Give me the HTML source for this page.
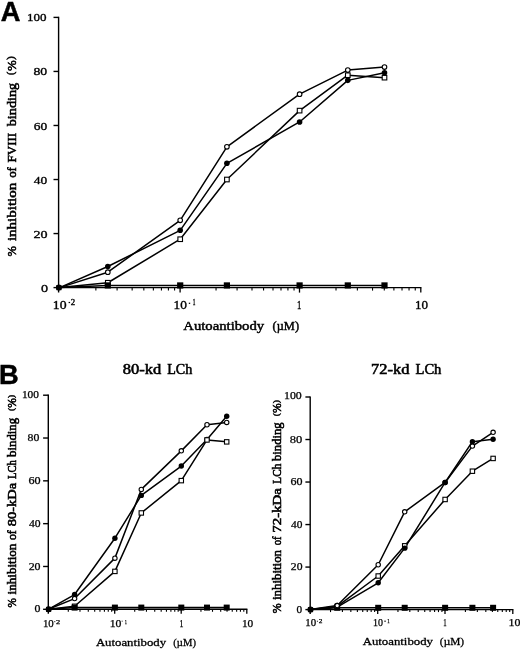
<!DOCTYPE html>
<html><head><meta charset="utf-8"><style>
html,body{margin:0;padding:0;background:#fff;}
svg{display:block;will-change:transform;}
text{fill:#000;}
</style></head><body>
<svg width="520" height="649" viewBox="0 0 520 649">
<line x1="58.60" y1="16.80" x2="58.60" y2="292.60" stroke="#000" stroke-width="1.4"/>
<line x1="53.50" y1="287.60" x2="58.60" y2="287.60" stroke="#000" stroke-width="1.4"/>
<line x1="53.50" y1="233.56" x2="58.60" y2="233.56" stroke="#000" stroke-width="1.4"/>
<line x1="53.50" y1="179.52" x2="58.60" y2="179.52" stroke="#000" stroke-width="1.4"/>
<line x1="53.50" y1="125.48" x2="58.60" y2="125.48" stroke="#000" stroke-width="1.4"/>
<line x1="53.50" y1="71.44" x2="58.60" y2="71.44" stroke="#000" stroke-width="1.4"/>
<line x1="53.50" y1="17.40" x2="58.60" y2="17.40" stroke="#000" stroke-width="1.4"/>
<line x1="58.60" y1="287.60" x2="421.40" y2="287.60" stroke="#000" stroke-width="1.4"/>
<line x1="95.87" y1="287.60" x2="95.87" y2="290.60" stroke="#000" stroke-width="1.1"/>
<line x1="117.09" y1="287.60" x2="117.09" y2="290.60" stroke="#000" stroke-width="1.1"/>
<line x1="132.15" y1="287.60" x2="132.15" y2="290.60" stroke="#000" stroke-width="1.1"/>
<line x1="143.83" y1="287.60" x2="143.83" y2="290.60" stroke="#000" stroke-width="1.1"/>
<line x1="153.37" y1="287.60" x2="153.37" y2="290.60" stroke="#000" stroke-width="1.1"/>
<line x1="161.43" y1="287.60" x2="161.43" y2="290.60" stroke="#000" stroke-width="1.1"/>
<line x1="168.42" y1="287.60" x2="168.42" y2="290.60" stroke="#000" stroke-width="1.1"/>
<line x1="174.59" y1="287.60" x2="174.59" y2="290.60" stroke="#000" stroke-width="1.1"/>
<line x1="216.04" y1="287.60" x2="216.04" y2="290.60" stroke="#000" stroke-width="1.1"/>
<line x1="237.07" y1="287.60" x2="237.07" y2="290.60" stroke="#000" stroke-width="1.1"/>
<line x1="251.99" y1="287.60" x2="251.99" y2="290.60" stroke="#000" stroke-width="1.1"/>
<line x1="263.56" y1="287.60" x2="263.56" y2="290.60" stroke="#000" stroke-width="1.1"/>
<line x1="273.01" y1="287.60" x2="273.01" y2="290.60" stroke="#000" stroke-width="1.1"/>
<line x1="281.00" y1="287.60" x2="281.00" y2="290.60" stroke="#000" stroke-width="1.1"/>
<line x1="287.93" y1="287.60" x2="287.93" y2="290.60" stroke="#000" stroke-width="1.1"/>
<line x1="294.04" y1="287.60" x2="294.04" y2="290.60" stroke="#000" stroke-width="1.1"/>
<line x1="336.01" y1="287.60" x2="336.01" y2="290.60" stroke="#000" stroke-width="1.1"/>
<line x1="357.37" y1="287.60" x2="357.37" y2="290.60" stroke="#000" stroke-width="1.1"/>
<line x1="372.53" y1="287.60" x2="372.53" y2="290.60" stroke="#000" stroke-width="1.1"/>
<line x1="384.29" y1="287.60" x2="384.29" y2="290.60" stroke="#000" stroke-width="1.1"/>
<line x1="393.89" y1="287.60" x2="393.89" y2="290.60" stroke="#000" stroke-width="1.1"/>
<line x1="402.01" y1="287.60" x2="402.01" y2="290.60" stroke="#000" stroke-width="1.1"/>
<line x1="409.04" y1="287.60" x2="409.04" y2="290.60" stroke="#000" stroke-width="1.1"/>
<line x1="415.25" y1="287.60" x2="415.25" y2="290.60" stroke="#000" stroke-width="1.1"/>
<line x1="180.10" y1="287.60" x2="180.10" y2="292.60" stroke="#000" stroke-width="1.3"/>
<line x1="299.50" y1="287.60" x2="299.50" y2="292.60" stroke="#000" stroke-width="1.3"/>
<line x1="420.80" y1="287.60" x2="420.80" y2="292.60" stroke="#000" stroke-width="1.3"/>
<polyline points="59.60,287.60 107.80,285.44 180.20,285.44 226.90,285.44 299.60,285.44 347.80,285.44 384.50,285.44" fill="none" stroke="#000" stroke-width="1.5" stroke-linejoin="round"/>
<polyline points="59.60,287.60 107.80,282.74 180.20,239.23 226.90,179.52 299.60,110.62 347.80,75.22 384.50,77.65" fill="none" stroke="#000" stroke-width="1.5" stroke-linejoin="round"/>
<polyline points="59.60,287.60 107.80,266.52 180.20,230.32 226.90,163.31 299.60,121.97 347.80,80.36 384.50,72.79" fill="none" stroke="#000" stroke-width="1.5" stroke-linejoin="round"/>
<polyline points="59.60,287.60 107.80,272.20 180.20,220.32 226.90,146.83 299.60,94.14 347.80,70.09 384.50,67.12" fill="none" stroke="#000" stroke-width="1.5" stroke-linejoin="round"/>
<rect x="105.50" y="280.44" width="4.60" height="4.60" fill="#fff" stroke="#000" stroke-width="1.1"/>
<rect x="177.90" y="236.93" width="4.60" height="4.60" fill="#fff" stroke="#000" stroke-width="1.1"/>
<rect x="224.60" y="177.22" width="4.60" height="4.60" fill="#fff" stroke="#000" stroke-width="1.1"/>
<rect x="297.30" y="108.32" width="4.60" height="4.60" fill="#fff" stroke="#000" stroke-width="1.1"/>
<rect x="345.50" y="72.92" width="4.60" height="4.60" fill="#fff" stroke="#000" stroke-width="1.1"/>
<rect x="382.20" y="75.35" width="4.60" height="4.60" fill="#fff" stroke="#000" stroke-width="1.1"/>
<rect x="104.70" y="282.34" width="6.20" height="6.20" fill="#000"/>
<rect x="177.10" y="282.34" width="6.20" height="6.20" fill="#000"/>
<rect x="223.80" y="282.34" width="6.20" height="6.20" fill="#000"/>
<rect x="296.50" y="282.34" width="6.20" height="6.20" fill="#000"/>
<rect x="344.70" y="282.34" width="6.20" height="6.20" fill="#000"/>
<rect x="381.40" y="282.34" width="6.20" height="6.20" fill="#000"/>
<circle cx="107.80" cy="266.52" r="2.80" fill="#000"/>
<circle cx="180.20" cy="230.32" r="2.80" fill="#000"/>
<circle cx="226.90" cy="163.31" r="2.80" fill="#000"/>
<circle cx="299.60" cy="121.97" r="2.80" fill="#000"/>
<circle cx="347.80" cy="80.36" r="2.80" fill="#000"/>
<circle cx="384.50" cy="72.79" r="2.80" fill="#000"/>
<circle cx="107.80" cy="272.20" r="2.30" fill="#fff" stroke="#000" stroke-width="1.1"/>
<circle cx="180.20" cy="220.32" r="2.30" fill="#fff" stroke="#000" stroke-width="1.1"/>
<circle cx="226.90" cy="146.83" r="2.30" fill="#fff" stroke="#000" stroke-width="1.1"/>
<circle cx="299.60" cy="94.14" r="2.30" fill="#fff" stroke="#000" stroke-width="1.1"/>
<circle cx="347.80" cy="70.09" r="2.30" fill="#fff" stroke="#000" stroke-width="1.1"/>
<circle cx="384.50" cy="67.12" r="2.30" fill="#fff" stroke="#000" stroke-width="1.1"/>
<circle cx="58.90" cy="287.60" r="3.0" fill="#000"/>
<rect x="56.30" y="285.20" width="5.2" height="5" fill="#000"/>
<line x1="48.30" y1="394.60" x2="48.30" y2="613.80" stroke="#000" stroke-width="1.4"/>
<line x1="43.10" y1="609.30" x2="48.30" y2="609.30" stroke="#000" stroke-width="1.4"/>
<line x1="43.10" y1="566.48" x2="48.30" y2="566.48" stroke="#000" stroke-width="1.4"/>
<line x1="43.10" y1="523.66" x2="48.30" y2="523.66" stroke="#000" stroke-width="1.4"/>
<line x1="43.10" y1="480.84" x2="48.30" y2="480.84" stroke="#000" stroke-width="1.4"/>
<line x1="43.10" y1="438.02" x2="48.30" y2="438.02" stroke="#000" stroke-width="1.4"/>
<line x1="43.10" y1="395.20" x2="48.30" y2="395.20" stroke="#000" stroke-width="1.4"/>
<line x1="48.30" y1="609.30" x2="247.40" y2="609.30" stroke="#000" stroke-width="1.4"/>
<line x1="68.29" y1="609.30" x2="68.29" y2="611.80" stroke="#000" stroke-width="1.1"/>
<line x1="79.98" y1="609.30" x2="79.98" y2="611.80" stroke="#000" stroke-width="1.1"/>
<line x1="88.28" y1="609.30" x2="88.28" y2="611.80" stroke="#000" stroke-width="1.1"/>
<line x1="94.71" y1="609.30" x2="94.71" y2="611.80" stroke="#000" stroke-width="1.1"/>
<line x1="99.97" y1="609.30" x2="99.97" y2="611.80" stroke="#000" stroke-width="1.1"/>
<line x1="104.41" y1="609.30" x2="104.41" y2="611.80" stroke="#000" stroke-width="1.1"/>
<line x1="108.27" y1="609.30" x2="108.27" y2="611.80" stroke="#000" stroke-width="1.1"/>
<line x1="111.66" y1="609.30" x2="111.66" y2="611.80" stroke="#000" stroke-width="1.1"/>
<line x1="134.72" y1="609.30" x2="134.72" y2="611.80" stroke="#000" stroke-width="1.1"/>
<line x1="146.43" y1="609.30" x2="146.43" y2="611.80" stroke="#000" stroke-width="1.1"/>
<line x1="154.74" y1="609.30" x2="154.74" y2="611.80" stroke="#000" stroke-width="1.1"/>
<line x1="161.18" y1="609.30" x2="161.18" y2="611.80" stroke="#000" stroke-width="1.1"/>
<line x1="166.45" y1="609.30" x2="166.45" y2="611.80" stroke="#000" stroke-width="1.1"/>
<line x1="170.90" y1="609.30" x2="170.90" y2="611.80" stroke="#000" stroke-width="1.1"/>
<line x1="174.76" y1="609.30" x2="174.76" y2="611.80" stroke="#000" stroke-width="1.1"/>
<line x1="178.16" y1="609.30" x2="178.16" y2="611.80" stroke="#000" stroke-width="1.1"/>
<line x1="200.95" y1="609.30" x2="200.95" y2="611.80" stroke="#000" stroke-width="1.1"/>
<line x1="212.50" y1="609.30" x2="212.50" y2="611.80" stroke="#000" stroke-width="1.1"/>
<line x1="220.70" y1="609.30" x2="220.70" y2="611.80" stroke="#000" stroke-width="1.1"/>
<line x1="227.05" y1="609.30" x2="227.05" y2="611.80" stroke="#000" stroke-width="1.1"/>
<line x1="232.25" y1="609.30" x2="232.25" y2="611.80" stroke="#000" stroke-width="1.1"/>
<line x1="236.64" y1="609.30" x2="236.64" y2="611.80" stroke="#000" stroke-width="1.1"/>
<line x1="240.44" y1="609.30" x2="240.44" y2="611.80" stroke="#000" stroke-width="1.1"/>
<line x1="243.80" y1="609.30" x2="243.80" y2="611.80" stroke="#000" stroke-width="1.1"/>
<line x1="114.70" y1="609.30" x2="114.70" y2="613.80" stroke="#000" stroke-width="1.3"/>
<line x1="181.20" y1="609.30" x2="181.20" y2="613.80" stroke="#000" stroke-width="1.3"/>
<line x1="246.80" y1="609.30" x2="246.80" y2="613.80" stroke="#000" stroke-width="1.3"/>
<polyline points="48.30,609.30 74.60,607.59 114.90,607.59 141.30,607.59 181.30,607.59 207.00,607.59 226.70,607.59" fill="none" stroke="#000" stroke-width="1.5" stroke-linejoin="round"/>
<polyline points="48.30,609.30 74.60,606.30 114.90,571.40 141.30,512.95 181.30,480.63 207.00,439.95 226.70,441.87" fill="none" stroke="#000" stroke-width="1.5" stroke-linejoin="round"/>
<polyline points="48.30,609.30 74.60,594.53 114.90,538.22 141.30,495.40 181.30,466.07 207.00,439.52 226.70,416.18" fill="none" stroke="#000" stroke-width="1.5" stroke-linejoin="round"/>
<polyline points="48.30,609.30 74.60,598.59 114.90,558.13 141.30,489.40 181.30,450.87 207.00,424.75 226.70,422.39" fill="none" stroke="#000" stroke-width="1.5" stroke-linejoin="round"/>
<circle cx="74.60" cy="594.53" r="2.70" fill="#000"/>
<circle cx="114.90" cy="538.22" r="2.70" fill="#000"/>
<circle cx="141.30" cy="495.40" r="2.70" fill="#000"/>
<circle cx="181.30" cy="466.07" r="2.70" fill="#000"/>
<circle cx="207.00" cy="439.52" r="2.70" fill="#000"/>
<circle cx="226.70" cy="416.18" r="2.70" fill="#000"/>
<rect x="72.40" y="604.10" width="4.40" height="4.40" fill="#fff" stroke="#000" stroke-width="1.1"/>
<rect x="112.70" y="569.20" width="4.40" height="4.40" fill="#fff" stroke="#000" stroke-width="1.1"/>
<rect x="139.10" y="510.75" width="4.40" height="4.40" fill="#fff" stroke="#000" stroke-width="1.1"/>
<rect x="179.10" y="478.43" width="4.40" height="4.40" fill="#fff" stroke="#000" stroke-width="1.1"/>
<rect x="204.80" y="437.75" width="4.40" height="4.40" fill="#fff" stroke="#000" stroke-width="1.1"/>
<rect x="224.50" y="439.67" width="4.40" height="4.40" fill="#fff" stroke="#000" stroke-width="1.1"/>
<rect x="71.60" y="604.59" width="6.00" height="6.00" fill="#000"/>
<rect x="111.90" y="604.59" width="6.00" height="6.00" fill="#000"/>
<rect x="138.30" y="604.59" width="6.00" height="6.00" fill="#000"/>
<rect x="178.30" y="604.59" width="6.00" height="6.00" fill="#000"/>
<rect x="204.00" y="604.59" width="6.00" height="6.00" fill="#000"/>
<rect x="223.70" y="604.59" width="6.00" height="6.00" fill="#000"/>
<circle cx="74.60" cy="598.59" r="2.20" fill="#fff" stroke="#000" stroke-width="1.1"/>
<circle cx="114.90" cy="558.13" r="2.20" fill="#fff" stroke="#000" stroke-width="1.1"/>
<circle cx="141.30" cy="489.40" r="2.20" fill="#fff" stroke="#000" stroke-width="1.1"/>
<circle cx="181.30" cy="450.87" r="2.20" fill="#fff" stroke="#000" stroke-width="1.1"/>
<circle cx="207.00" cy="424.75" r="2.20" fill="#fff" stroke="#000" stroke-width="1.1"/>
<circle cx="226.70" cy="422.39" r="2.20" fill="#fff" stroke="#000" stroke-width="1.1"/>
<circle cx="48.60" cy="609.30" r="3.0" fill="#000"/>
<rect x="46.00" y="606.90" width="5.2" height="5" fill="#000"/>
<line x1="310.20" y1="396.40" x2="310.20" y2="614.10" stroke="#000" stroke-width="1.4"/>
<line x1="305.40" y1="609.60" x2="310.20" y2="609.60" stroke="#000" stroke-width="1.4"/>
<line x1="305.40" y1="567.08" x2="310.20" y2="567.08" stroke="#000" stroke-width="1.4"/>
<line x1="305.40" y1="524.56" x2="310.20" y2="524.56" stroke="#000" stroke-width="1.4"/>
<line x1="305.40" y1="482.04" x2="310.20" y2="482.04" stroke="#000" stroke-width="1.4"/>
<line x1="305.40" y1="439.52" x2="310.20" y2="439.52" stroke="#000" stroke-width="1.4"/>
<line x1="305.40" y1="397.00" x2="310.20" y2="397.00" stroke="#000" stroke-width="1.4"/>
<line x1="310.20" y1="609.60" x2="513.40" y2="609.60" stroke="#000" stroke-width="1.4"/>
<line x1="330.52" y1="609.60" x2="330.52" y2="612.10" stroke="#000" stroke-width="1.1"/>
<line x1="342.41" y1="609.60" x2="342.41" y2="612.10" stroke="#000" stroke-width="1.1"/>
<line x1="350.84" y1="609.60" x2="350.84" y2="612.10" stroke="#000" stroke-width="1.1"/>
<line x1="357.38" y1="609.60" x2="357.38" y2="612.10" stroke="#000" stroke-width="1.1"/>
<line x1="362.73" y1="609.60" x2="362.73" y2="612.10" stroke="#000" stroke-width="1.1"/>
<line x1="367.24" y1="609.60" x2="367.24" y2="612.10" stroke="#000" stroke-width="1.1"/>
<line x1="371.16" y1="609.60" x2="371.16" y2="612.10" stroke="#000" stroke-width="1.1"/>
<line x1="374.61" y1="609.60" x2="374.61" y2="612.10" stroke="#000" stroke-width="1.1"/>
<line x1="397.96" y1="609.60" x2="397.96" y2="612.10" stroke="#000" stroke-width="1.1"/>
<line x1="409.81" y1="609.60" x2="409.81" y2="612.10" stroke="#000" stroke-width="1.1"/>
<line x1="418.22" y1="609.60" x2="418.22" y2="612.10" stroke="#000" stroke-width="1.1"/>
<line x1="424.74" y1="609.60" x2="424.74" y2="612.10" stroke="#000" stroke-width="1.1"/>
<line x1="430.07" y1="609.60" x2="430.07" y2="612.10" stroke="#000" stroke-width="1.1"/>
<line x1="434.58" y1="609.60" x2="434.58" y2="612.10" stroke="#000" stroke-width="1.1"/>
<line x1="438.48" y1="609.60" x2="438.48" y2="612.10" stroke="#000" stroke-width="1.1"/>
<line x1="441.92" y1="609.60" x2="441.92" y2="612.10" stroke="#000" stroke-width="1.1"/>
<line x1="465.41" y1="609.60" x2="465.41" y2="612.10" stroke="#000" stroke-width="1.1"/>
<line x1="477.35" y1="609.60" x2="477.35" y2="612.10" stroke="#000" stroke-width="1.1"/>
<line x1="485.82" y1="609.60" x2="485.82" y2="612.10" stroke="#000" stroke-width="1.1"/>
<line x1="492.39" y1="609.60" x2="492.39" y2="612.10" stroke="#000" stroke-width="1.1"/>
<line x1="497.76" y1="609.60" x2="497.76" y2="612.10" stroke="#000" stroke-width="1.1"/>
<line x1="502.30" y1="609.60" x2="502.30" y2="612.10" stroke="#000" stroke-width="1.1"/>
<line x1="506.23" y1="609.60" x2="506.23" y2="612.10" stroke="#000" stroke-width="1.1"/>
<line x1="509.70" y1="609.60" x2="509.70" y2="612.10" stroke="#000" stroke-width="1.1"/>
<line x1="377.70" y1="609.60" x2="377.70" y2="614.10" stroke="#000" stroke-width="1.3"/>
<line x1="445.00" y1="609.60" x2="445.00" y2="614.10" stroke="#000" stroke-width="1.3"/>
<line x1="512.80" y1="609.60" x2="512.80" y2="614.10" stroke="#000" stroke-width="1.3"/>
<polyline points="310.20,609.60 337.20,607.79 378.20,607.79 404.70,607.79 445.10,607.79 472.40,607.79 493.10,607.79" fill="none" stroke="#000" stroke-width="1.5" stroke-linejoin="round"/>
<polyline points="310.20,609.60 337.20,606.41 378.20,576.01 404.70,545.82 445.10,499.47 472.40,471.20 493.10,458.44" fill="none" stroke="#000" stroke-width="1.5" stroke-linejoin="round"/>
<polyline points="310.20,609.60 337.20,607.05 378.20,582.81 404.70,548.16 445.10,482.47 472.40,441.65 493.10,439.31" fill="none" stroke="#000" stroke-width="1.5" stroke-linejoin="round"/>
<polyline points="310.20,609.60 337.20,605.56 378.20,564.74 404.70,511.80 445.10,482.47 472.40,446.11 493.10,432.29" fill="none" stroke="#000" stroke-width="1.5" stroke-linejoin="round"/>
<rect x="335.00" y="604.21" width="4.40" height="4.40" fill="#fff" stroke="#000" stroke-width="1.1"/>
<rect x="376.00" y="573.81" width="4.40" height="4.40" fill="#fff" stroke="#000" stroke-width="1.1"/>
<rect x="402.50" y="543.62" width="4.40" height="4.40" fill="#fff" stroke="#000" stroke-width="1.1"/>
<rect x="442.90" y="497.27" width="4.40" height="4.40" fill="#fff" stroke="#000" stroke-width="1.1"/>
<rect x="470.20" y="469.00" width="4.40" height="4.40" fill="#fff" stroke="#000" stroke-width="1.1"/>
<rect x="490.90" y="456.24" width="4.40" height="4.40" fill="#fff" stroke="#000" stroke-width="1.1"/>
<rect x="334.20" y="604.79" width="6.00" height="6.00" fill="#000"/>
<rect x="375.20" y="604.79" width="6.00" height="6.00" fill="#000"/>
<rect x="401.70" y="604.79" width="6.00" height="6.00" fill="#000"/>
<rect x="442.10" y="604.79" width="6.00" height="6.00" fill="#000"/>
<rect x="469.40" y="604.79" width="6.00" height="6.00" fill="#000"/>
<rect x="490.10" y="604.79" width="6.00" height="6.00" fill="#000"/>
<circle cx="337.20" cy="605.56" r="2.20" fill="#fff" stroke="#000" stroke-width="1.1"/>
<circle cx="378.20" cy="564.74" r="2.20" fill="#fff" stroke="#000" stroke-width="1.1"/>
<circle cx="404.70" cy="511.80" r="2.20" fill="#fff" stroke="#000" stroke-width="1.1"/>
<circle cx="445.10" cy="482.47" r="2.20" fill="#fff" stroke="#000" stroke-width="1.1"/>
<circle cx="472.40" cy="446.11" r="2.20" fill="#fff" stroke="#000" stroke-width="1.1"/>
<circle cx="493.10" cy="432.29" r="2.20" fill="#fff" stroke="#000" stroke-width="1.1"/>
<circle cx="337.20" cy="607.05" r="2.70" fill="#000"/>
<circle cx="378.20" cy="582.81" r="2.70" fill="#000"/>
<circle cx="404.70" cy="548.16" r="2.70" fill="#000"/>
<circle cx="445.10" cy="482.47" r="2.70" fill="#000"/>
<circle cx="472.40" cy="441.65" r="2.70" fill="#000"/>
<circle cx="493.10" cy="439.31" r="2.70" fill="#000"/>
<circle cx="310.50" cy="609.60" r="3.0" fill="#000"/>
<rect x="307.90" y="607.20" width="5.2" height="5" fill="#000"/>
<circle cx="337.20" cy="605.56" r="2.20" fill="#fff" stroke="#000" stroke-width="1.1"/>
<rect x="68.6" y="301.90" width="1.50" height="1.2" fill="#000" opacity="1"/>
<rect x="188.8" y="302.70" width="1.40" height="1.2" fill="#000" opacity="1"/>
<rect x="54.0" y="621.00" width="1.40" height="1.2" fill="#000" opacity="0.6"/>
<rect x="121.7" y="620.60" width="0.90" height="1.2" fill="#000" opacity="0.8"/>
<rect x="316.9" y="620.70" width="1.00" height="1.2" fill="#000" opacity="0.8"/>
<rect x="384.3" y="620.60" width="1.50" height="1.2" fill="#000" opacity="0.9"/>
<text x="0.65" y="20.8" font-family="'Liberation Sans', sans-serif" font-weight="bold" font-size="27.6" textLength="19.672" lengthAdjust="spacingAndGlyphs" stroke="#000" stroke-width="0.5">A</text>
<text x="-0.90" y="384.0" font-family="'Liberation Sans', sans-serif" font-weight="bold" font-size="27.6" textLength="19.692" lengthAdjust="spacingAndGlyphs" stroke="#000" stroke-width="0.5">B</text>
<text x="26.90" y="20.6" font-family="'Liberation Serif', serif" font-weight="normal" font-size="11.3" textLength="19.553" lengthAdjust="spacingAndGlyphs" stroke="#000" stroke-width="0.35">100</text>
<text x="33.45" y="74.7" font-family="'Liberation Serif', serif" font-weight="normal" font-size="11.3" textLength="13.757" lengthAdjust="spacingAndGlyphs" stroke="#000" stroke-width="0.35">80</text>
<text x="33.75" y="129.7" font-family="'Liberation Serif', serif" font-weight="normal" font-size="11.3" textLength="13.456" lengthAdjust="spacingAndGlyphs" stroke="#000" stroke-width="0.35">60</text>
<text x="33.80" y="183.7" font-family="'Liberation Serif', serif" font-weight="normal" font-size="11.3" textLength="13.406" lengthAdjust="spacingAndGlyphs" stroke="#000" stroke-width="0.35">40</text>
<text x="33.50" y="237.9" font-family="'Liberation Serif', serif" font-weight="normal" font-size="11.3" textLength="14.058" lengthAdjust="spacingAndGlyphs" stroke="#000" stroke-width="0.35">20</text>
<text x="40.95" y="292.2" font-family="'Liberation Serif', serif" font-weight="normal" font-size="11.3" textLength="7.070" lengthAdjust="spacingAndGlyphs" stroke="#000" stroke-width="0.35">0</text>
<text x="52.80" y="308.6" font-family="'Liberation Serif', serif" font-weight="normal" font-size="11.8" textLength="13.743" lengthAdjust="spacingAndGlyphs" stroke="#000" stroke-width="0.35">10</text>
<text x="70.85" y="304.6" font-family="'Liberation Serif', serif" font-weight="normal" font-size="7.8" textLength="4.427" lengthAdjust="spacingAndGlyphs" stroke="#000" stroke-width="0.35">2</text>
<text x="173.60" y="308.6" font-family="'Liberation Serif', serif" font-weight="normal" font-size="11.8" textLength="13.389" lengthAdjust="spacingAndGlyphs" stroke="#000" stroke-width="0.35">10</text>
<text x="192.75" y="305.0" font-family="'Liberation Serif', serif" font-weight="normal" font-size="7.8" textLength="2.656" lengthAdjust="spacingAndGlyphs" stroke="#000" stroke-width="0.35">1</text>
<text x="296.95" y="308.6" font-family="'Liberation Serif', serif" font-weight="normal" font-size="11.8" textLength="4.371" lengthAdjust="spacingAndGlyphs" stroke="#000" stroke-width="0.35">1</text>
<text x="415.00" y="308.6" font-family="'Liberation Serif', serif" font-weight="normal" font-size="11.8" textLength="13.036" lengthAdjust="spacingAndGlyphs" stroke="#000" stroke-width="0.35">10</text>
<text x="183.25" y="330.2" font-family="'Liberation Serif', serif" font-weight="normal" font-size="12.6" textLength="80.942" lengthAdjust="spacingAndGlyphs" stroke="#000" stroke-width="0.45">Autoantibody</text>
<text x="272.55" y="330.2" font-family="'Liberation Serif', serif" font-weight="normal" font-size="12.6" textLength="26.468" lengthAdjust="spacingAndGlyphs" stroke="#000" stroke-width="0.45">(µM)</text>
<text x="0" y="0" transform="translate(16.0,256.55) rotate(-90)" font-family="'Liberation Serif', serif" font-weight="normal" font-size="12.8" textLength="10.405" lengthAdjust="spacingAndGlyphs" stroke="#000" stroke-width="0.55">%</text>
<text x="0" y="0" transform="translate(16.0,241.10) rotate(-90)" font-family="'Liberation Serif', serif" font-weight="normal" font-size="12.8" textLength="58.393" lengthAdjust="spacingAndGlyphs" stroke="#000" stroke-width="0.55">inhibition</text>
<text x="0" y="0" transform="translate(16.0,177.85) rotate(-90)" font-family="'Liberation Serif', serif" font-weight="normal" font-size="12.8" textLength="10.624" lengthAdjust="spacingAndGlyphs" stroke="#000" stroke-width="0.55">of</text>
<text x="0" y="0" transform="translate(16.0,162.50) rotate(-90)" font-family="'Liberation Serif', serif" font-weight="normal" font-size="12.8" textLength="29.663" lengthAdjust="spacingAndGlyphs" stroke="#000" stroke-width="0.55">FVIII</text>
<text x="0" y="0" transform="translate(16.0,126.25) rotate(-90)" font-family="'Liberation Serif', serif" font-weight="normal" font-size="12.8" textLength="43.363" lengthAdjust="spacingAndGlyphs" stroke="#000" stroke-width="0.55">binding</text>
<text x="0" y="0" transform="translate(16.0,75.05) rotate(-90)" font-family="'Liberation Serif', serif" font-weight="normal" font-size="12.8" textLength="18.717" lengthAdjust="spacing" stroke="#000" stroke-width="0.55"><tspan font-size="10.24" dy="-1.8">(</tspan><tspan dy="1.8">%</tspan><tspan font-size="10.24" dy="-1.8">)</tspan></text>
<text x="122.65" y="374.3" font-family="'Liberation Serif', serif" font-weight="normal" font-size="14.0" textLength="38.503" lengthAdjust="spacingAndGlyphs" stroke="#000" stroke-width="0.55">80-kd</text>
<text x="167.20" y="374.3" font-family="'Liberation Serif', serif" font-weight="normal" font-size="14.0" textLength="24.995" lengthAdjust="spacingAndGlyphs" stroke="#000" stroke-width="0.55">LCh</text>
<text x="371.05" y="374.1" font-family="'Liberation Serif', serif" font-weight="normal" font-size="14.0" textLength="38.301" lengthAdjust="spacingAndGlyphs" stroke="#000" stroke-width="0.55">72-kd</text>
<text x="415.50" y="374.1" font-family="'Liberation Serif', serif" font-weight="normal" font-size="14.0" textLength="25.834" lengthAdjust="spacingAndGlyphs" stroke="#000" stroke-width="0.55">LCh</text>
<text x="21.95" y="398.1" font-family="'Liberation Serif', serif" font-weight="normal" font-size="9.9" textLength="17.021" lengthAdjust="spacingAndGlyphs" stroke="#000" stroke-width="0.25">100</text>
<text x="27.55" y="440.9" font-family="'Liberation Serif', serif" font-weight="normal" font-size="9.9" textLength="11.794" lengthAdjust="spacingAndGlyphs" stroke="#000" stroke-width="0.25">80</text>
<text x="28.45" y="483.9" font-family="'Liberation Serif', serif" font-weight="normal" font-size="9.9" textLength="12.132" lengthAdjust="spacingAndGlyphs" stroke="#000" stroke-width="0.25">60</text>
<text x="28.90" y="527.2" font-family="'Liberation Serif', serif" font-weight="normal" font-size="9.9" textLength="11.624" lengthAdjust="spacingAndGlyphs" stroke="#000" stroke-width="0.25">40</text>
<text x="28.65" y="569.9" font-family="'Liberation Serif', serif" font-weight="normal" font-size="9.9" textLength="11.906" lengthAdjust="spacingAndGlyphs" stroke="#000" stroke-width="0.25">20</text>
<text x="34.55" y="611.8" font-family="'Liberation Serif', serif" font-weight="normal" font-size="9.9" textLength="5.925" lengthAdjust="spacingAndGlyphs" stroke="#000" stroke-width="0.25">0</text>
<text x="284.00" y="399.4" font-family="'Liberation Serif', serif" font-weight="normal" font-size="9.9" textLength="17.775" lengthAdjust="spacingAndGlyphs" stroke="#000" stroke-width="0.25">100</text>
<text x="289.85" y="442.8" font-family="'Liberation Serif', serif" font-weight="normal" font-size="9.9" textLength="12.471" lengthAdjust="spacingAndGlyphs" stroke="#000" stroke-width="0.25">80</text>
<text x="290.55" y="484.8" font-family="'Liberation Serif', serif" font-weight="normal" font-size="9.9" textLength="12.019" lengthAdjust="spacingAndGlyphs" stroke="#000" stroke-width="0.25">60</text>
<text x="291.10" y="527.8" font-family="'Liberation Serif', serif" font-weight="normal" font-size="9.9" textLength="11.399" lengthAdjust="spacingAndGlyphs" stroke="#000" stroke-width="0.25">40</text>
<text x="290.85" y="570.1" font-family="'Liberation Serif', serif" font-weight="normal" font-size="9.9" textLength="11.681" lengthAdjust="spacingAndGlyphs" stroke="#000" stroke-width="0.25">20</text>
<text x="296.45" y="612.5" font-family="'Liberation Serif', serif" font-weight="normal" font-size="9.9" textLength="5.629" lengthAdjust="spacingAndGlyphs" stroke="#000" stroke-width="0.25">0</text>
<text x="42.95" y="626.6" font-family="'Liberation Serif', serif" font-weight="normal" font-size="9.8" textLength="10.826" lengthAdjust="spacingAndGlyphs" stroke="#000" stroke-width="0.25">10</text>
<text x="55.95" y="623.6" font-family="'Liberation Serif', serif" font-weight="normal" font-size="6.6" textLength="4.220" lengthAdjust="spacingAndGlyphs" stroke="#000" stroke-width="0.25">2</text>
<text x="109.75" y="626.6" font-family="'Liberation Serif', serif" font-weight="normal" font-size="9.8" textLength="11.707" lengthAdjust="spacingAndGlyphs" stroke="#000" stroke-width="0.25">10</text>
<text x="124.65" y="623.5" font-family="'Liberation Serif', serif" font-weight="normal" font-size="6.6" textLength="2.154" lengthAdjust="spacingAndGlyphs" stroke="#000" stroke-width="0.25">1</text>
<text x="179.50" y="626.6" font-family="'Liberation Serif', serif" font-weight="normal" font-size="9.8" textLength="3.925" lengthAdjust="spacingAndGlyphs" stroke="#000" stroke-width="0.25">1</text>
<text x="241.95" y="626.6" font-family="'Liberation Serif', serif" font-weight="normal" font-size="9.8" textLength="11.315" lengthAdjust="spacingAndGlyphs" stroke="#000" stroke-width="0.25">10</text>
<text x="305.25" y="626.0" font-family="'Liberation Serif', serif" font-weight="normal" font-size="9.8" textLength="10.826" lengthAdjust="spacingAndGlyphs" stroke="#000" stroke-width="0.25">10</text>
<text x="318.65" y="622.6" font-family="'Liberation Serif', serif" font-weight="normal" font-size="6.6" textLength="3.693" lengthAdjust="spacingAndGlyphs" stroke="#000" stroke-width="0.25">2</text>
<text x="372.95" y="626.0" font-family="'Liberation Serif', serif" font-weight="normal" font-size="9.8" textLength="9.944" lengthAdjust="spacingAndGlyphs" stroke="#000" stroke-width="0.25">10</text>
<text x="387.25" y="622.7" font-family="'Liberation Serif', serif" font-weight="normal" font-size="6.6" textLength="2.418" lengthAdjust="spacingAndGlyphs" stroke="#000" stroke-width="0.25">1</text>
<text x="443.30" y="626.0" font-family="'Liberation Serif', serif" font-weight="normal" font-size="9.8" textLength="3.402" lengthAdjust="spacingAndGlyphs" stroke="#000" stroke-width="0.25">1</text>
<text x="508.60" y="626.0" font-family="'Liberation Serif', serif" font-weight="normal" font-size="9.8" textLength="11.903" lengthAdjust="spacingAndGlyphs" stroke="#000" stroke-width="0.25">10</text>
<text x="95.90" y="645.8" font-family="'Liberation Serif', serif" font-weight="normal" font-size="11.0" textLength="70.180" lengthAdjust="spacingAndGlyphs" stroke="#000" stroke-width="0.3">Autoantibody</text>
<text x="173.35" y="645.8" font-family="'Liberation Serif', serif" font-weight="normal" font-size="11.0" textLength="22.570" lengthAdjust="spacingAndGlyphs" stroke="#000" stroke-width="0.3">(µM)</text>
<text x="362.70" y="645.2" font-family="'Liberation Serif', serif" font-weight="normal" font-size="11.0" textLength="70.279" lengthAdjust="spacingAndGlyphs" stroke="#000" stroke-width="0.3">Autoantibody</text>
<text x="439.85" y="645.2" font-family="'Liberation Serif', serif" font-weight="normal" font-size="11.0" textLength="24.226" lengthAdjust="spacingAndGlyphs" stroke="#000" stroke-width="0.3">(µM)</text>
<text x="0" y="0" transform="translate(15.9,607.50) rotate(-90)" font-family="'Liberation Serif', serif" font-weight="normal" font-size="11.6" textLength="9.340" lengthAdjust="spacingAndGlyphs" stroke="#000" stroke-width="0.55">%</text>
<text x="0" y="0" transform="translate(15.9,594.40) rotate(-90)" font-family="'Liberation Serif', serif" font-weight="normal" font-size="11.6" textLength="50.756" lengthAdjust="spacingAndGlyphs" stroke="#000" stroke-width="0.55">inhibition</text>
<text x="0" y="0" transform="translate(15.9,540.05) rotate(-90)" font-family="'Liberation Serif', serif" font-weight="normal" font-size="11.6" textLength="9.817" lengthAdjust="spacingAndGlyphs" stroke="#000" stroke-width="0.55">of</text>
<text x="0" y="0" transform="translate(15.9,526.15) rotate(-90)" font-family="'Liberation Serif', serif" font-weight="normal" font-size="11.6" textLength="43.178" lengthAdjust="spacingAndGlyphs" stroke="#000" stroke-width="0.55">80-kDa</text>
<text x="0" y="0" transform="translate(15.9,479.00) rotate(-90)" font-family="'Liberation Serif', serif" font-weight="normal" font-size="11.6" textLength="18.923" lengthAdjust="spacingAndGlyphs" stroke="#000" stroke-width="0.55">LCh</text>
<text x="0" y="0" transform="translate(15.9,456.95) rotate(-90)" font-family="'Liberation Serif', serif" font-weight="normal" font-size="11.6" textLength="39.133" lengthAdjust="spacingAndGlyphs" stroke="#000" stroke-width="0.55">binding</text>
<text x="0" y="0" transform="translate(15.6,411.05) rotate(-90)" font-family="'Liberation Serif', serif" font-weight="normal" font-size="11.6" textLength="16.055" lengthAdjust="spacing" stroke="#000" stroke-width="0.55"><tspan font-size="9.28" dy="-1.8">(</tspan><tspan dy="1.8">%</tspan><tspan font-size="9.28" dy="-1.8">)</tspan></text>
<text x="0" y="0" transform="translate(281.2,613.20) rotate(-90)" font-family="'Liberation Serif', serif" font-weight="normal" font-size="11.6" textLength="9.893" lengthAdjust="spacingAndGlyphs" stroke="#000" stroke-width="0.55">%</text>
<text x="0" y="0" transform="translate(281.2,600.00) rotate(-90)" font-family="'Liberation Serif', serif" font-weight="normal" font-size="11.6" textLength="50.054" lengthAdjust="spacingAndGlyphs" stroke="#000" stroke-width="0.55">inhibition</text>
<text x="0" y="0" transform="translate(281.2,545.35) rotate(-90)" font-family="'Liberation Serif', serif" font-weight="normal" font-size="11.6" textLength="8.946" lengthAdjust="spacingAndGlyphs" stroke="#000" stroke-width="0.55">of</text>
<text x="0" y="0" transform="translate(281.2,532.70) rotate(-90)" font-family="'Liberation Serif', serif" font-weight="normal" font-size="11.6" textLength="44.619" lengthAdjust="spacingAndGlyphs" stroke="#000" stroke-width="0.55">72-kDa</text>
<text x="0" y="0" transform="translate(281.2,483.70) rotate(-90)" font-family="'Liberation Serif', serif" font-weight="normal" font-size="11.6" textLength="20.058" lengthAdjust="spacingAndGlyphs" stroke="#000" stroke-width="0.55">LCh</text>
<text x="0" y="0" transform="translate(281.2,460.95) rotate(-90)" font-family="'Liberation Serif', serif" font-weight="normal" font-size="11.6" textLength="38.526" lengthAdjust="spacingAndGlyphs" stroke="#000" stroke-width="0.55">binding</text>
<text x="0" y="0" transform="translate(281.0,416.35) rotate(-90)" font-family="'Liberation Serif', serif" font-weight="normal" font-size="11.6" textLength="16.250" lengthAdjust="spacing" stroke="#000" stroke-width="0.55"><tspan font-size="9.28" dy="-1.8">(</tspan><tspan dy="1.8">%</tspan><tspan font-size="9.28" dy="-1.8">)</tspan></text>
</svg>
</body></html>
